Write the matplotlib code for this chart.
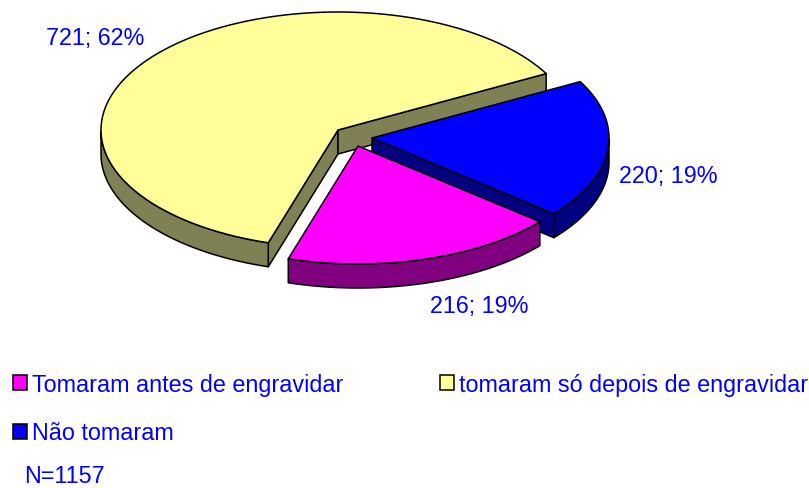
import numpy as np
import matplotlib
matplotlib.use("Agg")
import matplotlib.pyplot as plt
from matplotlib.patches import Polygon, Rectangle

categories = ["Tomaram antes de engravidar", "tomaram só depois de engravidar", "Não tomaram"]
values = [216, 721, 220]
note = "N=1157"

top_colors = ["#FF00FF", "#FFFF99", "#0000FF"]
side_colors = ["#800080", "#808055", "#000080"]
centers = [(358, 147), (338, 131), (372, 139)]
label_pos = [(479, 307), (95, 39), (668, 177)]
start_angle = -39.9   # first slice begins here, running clockwise
RX, RY, DEPTH = 237, 118, 24
TEXT = "#0000FF"
FS = 16.8
legend_order = [0, 2, 1]

plt.rcParams["font.family"] = ["Liberation Sans", "DejaVu Sans"]
fig = plt.figure(figsize=(8.09, 4.89), dpi=100)
ax = fig.add_axes([0, 0, 1, 1])
ax.set_xlim(0, 809)
ax.set_ylim(489, 0)
ax.axis("off")

total = sum(values)
sweeps = [360 * v / total for v in values]
starts = start_angle - np.cumsum([0] + sweeps[:-1])


def rim(c, t):
    r = np.radians(t)
    return np.column_stack([c[0] + RX * np.cos(r), c[1] - RY * np.sin(r)])


def draw_slice(i, z):
    c = centers[i]
    t0, t1 = starts[i], starts[i] - sweeps[i]          # clockwise
    ts = np.linspace(t0, t1, 200)
    kw = dict(edgecolor="black", linewidth=1.1, joinstyle="round", zorder=z)
    # radial walls
    for t in (t0, t1):
        p = rim(c, np.array([t]))[0]
        a = np.array(c, float)
        # wall is seen when the slice lies above its lower edge
        inner = rim(c, np.array([(t0 + t1) / 2]))[0] - a
        cross = (p - a)[0] * inner[1] - (p - a)[1] * inner[0]
        normal = np.array([-(p - a)[1], (p - a)[0]])
        if np.sign(cross) > 0:
            normal = -normal
        if normal[1] > 0:
            ax.add_patch(Polygon([a, p, p + [0, DEPTH], a + [0, DEPTH]],
                                 facecolor=side_colors[i], **kw))
    # outer wall: only the front half of the rim
    front = np.sin(np.radians(ts)) <= 0
    if front.any():
        arc = rim(c, ts[front])
        ax.add_patch(Polygon(np.vstack([arc, arc[::-1] + [0, DEPTH]]),
                             facecolor=side_colors[i], **kw))
    # top face
    ax.add_patch(Polygon(np.vstack([[c], rim(c, ts)]), facecolor=top_colors[i], **kw))


for z, i in enumerate([1, 2, 0]):
    draw_slice(i, 2 + z)

for v, pos in zip(values, label_pos):
    ax.text(pos[0], pos[1], f"{v}; {round(100 * v / total)}%", color=TEXT, fontsize=FS,
            ha="center", va="center")

handles = [Rectangle((0, 0), 1, 1, facecolor=top_colors[i], edgecolor="black", linewidth=1.1)
           for i in legend_order]
ax.legend(handles, [categories[i] for i in legend_order], ncol=2, loc="upper left",
          bbox_to_anchor=(13, 374), bbox_transform=ax.transData, frameon=False,
          fontsize=FS, labelcolor=TEXT, borderpad=0, borderaxespad=0,
          handlelength=0.6, handleheight=0.6, handletextpad=0.21,
          labelspacing=1.09, columnspacing=4.13)
ax.text(24, 483, note, color=TEXT, fontsize=FS, ha="left", va="baseline")

fig.savefig("out.png", dpi=100, facecolor="white")
